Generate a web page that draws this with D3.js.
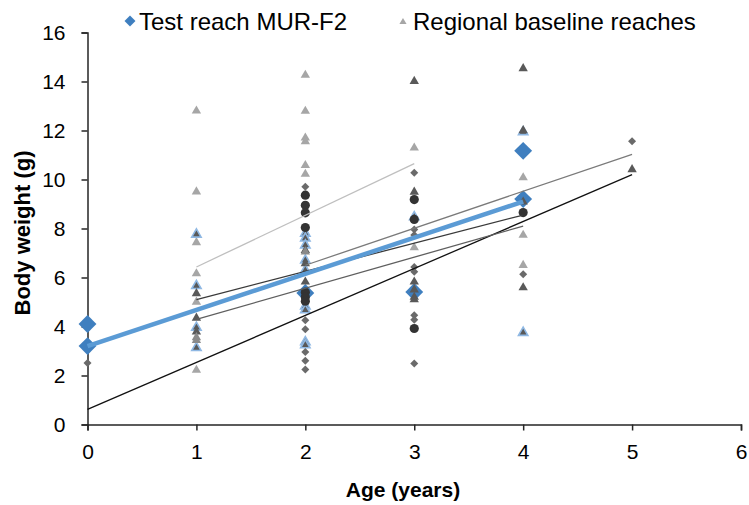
<!DOCTYPE html>
<html>
<head>
<meta charset="utf-8">
<script src="https://cdn.jsdelivr.net/npm/d3@7"></script>
<style>
  html, body { margin: 0; padding: 0; background: #fff; }
  svg { display: block; font-family: "Liberation Sans", Arial, sans-serif; }
</style>
</head>
<body>
<svg id="chart" width="749" height="505"></svg>
<script>
// Age (years) ticks and body weight (g) ticks
const xTicks = [0, 1, 2, 3, 4, 5, 6];
const yTicks = [0, 2, 4, 6, 8, 10, 12, 14, 16];

// Test reach MUR-F2
const testAge    = [0, 0, 2, 3, 4, 4];
const testWeight = [4.1, 3.2, 5.37, 5.41, 11.17, 9.2];
const testTrend  = { age: [0, 4], weight: [3.2, 9.1] };

// Regional baseline reaches, grouped by marker style
const lightTriAge    = [1, 1, 1, 1, 1, 1, 2, 2, 2, 2, 2, 2, 3, 3, 4, 4, 4];
const lightTriWeight = [12.8, 9.5, 7.43, 6.16, 5.0, 2.22, 14.26, 12.79, 11.7, 11.55, 10.58, 10.22, 11.29, 7.22, 10.08, 7.73, 6.5];

const outlinedTriAge    = [1, 1, 1, 1, 2, 2, 2, 2, 2, 2, 2, 2, 2, 3, 4, 4];
const outlinedTriWeight = [7.76, 5.66, 3.96, 3.13, 7.8, 7.6, 7.32, 6.7, 6.3, 4.83, 4.67, 3.37, 3.24, 8.47, 11.94, 3.75];

const darkTriAge    = [1, 1, 1, 2, 2, 2, 3, 3, 3, 3, 3, 3, 4, 4, 4, 4, 5];
const darkTriWeight = [5.35, 4.35, 3.78, 7.11, 6.57, 5.82, 14.01, 9.49, 5.82, 5.5, 5.2, 5.1, 14.53, 12.0, 9.09, 5.59, 10.41];

const midTriAge    = [1, 1, 2];
const midTriWeight = [3.55, 3.44, 7.05];

const diamondAge    = [0, 2, 2, 2, 2, 2, 2, 3, 3, 3, 3, 3, 3, 3, 3, 4, 5];
const diamondWeight = [2.51, 9.7, 4.26, 3.89, 2.96, 2.6, 2.24, 10.28, 7.96, 7.73, 6.43, 6.23, 4.46, 4.28, 2.49, 6.13, 11.56];

const circleAge    = [2, 2, 2, 2, 2, 2, 2, 3, 3, 3, 4];
const circleWeight = [9.36, 8.95, 8.64, 8.04, 5.4, 5.2, 5.03, 9.18, 8.37, 3.92, 8.65];

// Linear trends of the baseline reaches (fitted start and end points)
const trendAgeStart    = [1, 0, 1, 1, 2];
const trendAgeEnd      = [3, 5, 4, 4, 5];
const trendWeightStart = [6.43, 0.62, 5.1, 4.29, 6.5];
const trendWeightEnd   = [10.65, 10.2, 8.55, 8.1, 11.03];
const trendColors      = ["#bfbfbf", "#111111", "#3a3a3a", "#5f5f5f", "#7a7a7a"];

const legendLabels = ["Test reach MUR-F2", "Regional baseline reaches"];

const svg = d3.select("#chart");

const x = d3.scaleLinear().domain([0, 6]).range([87.5, 741]);
const y = d3.scaleLinear().domain([0, 16]).range([424.5, 32.5]);

// Axes
const yAxis = svg.append("g")
  .attr("transform", `translate(${x(0)},0)`)
  .call(d3.axisLeft(y).tickValues(yTicks).tickFormat(d3.format("d")).tickSize(6).tickPadding(16));
const xAxis = svg.append("g")
  .attr("transform", `translate(0,${y(0)})`)
  .call(d3.axisBottom(x).tickValues(xTicks).tickFormat(d3.format("d")).tickSize(6).tickPadding(14));

[xAxis, yAxis].forEach(g => {
  g.select(".domain").attr("stroke", "#262626").attr("stroke-width", 1.5);
  g.selectAll(".tick line").attr("stroke", "#262626").attr("stroke-width", 1.5);
  g.selectAll(".tick text")
    .attr("fill", "#000")
    .style("font-size", "21px")
    .style("font-family", "'Liberation Sans', Arial, sans-serif");
});

// Axis titles
svg.append("text")
  .attr("x", 403)
  .attr("y", 497)
  .attr("text-anchor", "middle")
  .style("font-size", "21px")
  .style("font-weight", "bold")
  .text("Age (years)");

svg.append("text")
  .attr("transform", "translate(30,233) rotate(-90)")
  .attr("text-anchor", "middle")
  .style("font-size", "22px")
  .style("font-weight", "bold")
  .text("Body weight (g)");

const sym = (type, size) => d3.symbol().type(type).size(size)();
const diamondPath = s => sym(d3.symbolSquare, s);

function drawPoints(ages, weights, path, fill, stroke, strokeWidth, rotate) {
  svg.append("g").selectAll("path")
    .data(ages.map((a, i) => [a, weights[i]]))
    .join("path")
    .attr("d", path)
    .attr("transform", d => `translate(${x(d[0])},${y(d[1])})${rotate ? " rotate(45)" : ""}`)
    .attr("fill", fill)
    .attr("stroke", stroke || "none")
    .attr("stroke-width", strokeWidth || 0);
}

// Test reach markers (drawn first, underneath)
drawPoints(testAge, testWeight, diamondPath(160), "#3f7fbf", null, 0, true);

// Baseline reach markers
drawPoints(lightTriAge, lightTriWeight, sym(d3.symbolTriangle, 38), "#a6a6a6");
drawPoints(outlinedTriAge, outlinedTriWeight, sym(d3.symbolTriangle, 38), "#595959", "#8fb8e3", 1.6);
drawPoints(darkTriAge, darkTriWeight, sym(d3.symbolTriangle, 38), "#595959");
drawPoints(midTriAge, midTriWeight, sym(d3.symbolTriangle, 38), "#8a8a8a");
drawPoints(diamondAge, diamondWeight, diamondPath(32), "#6a6a6a", null, 0, true);
drawPoints(circleAge, circleWeight, sym(d3.symbolCircle, 66), "#333333");

// Trend lines
const line = d3.line().x(d => x(d[0])).y(d => y(d[1]));
trendAgeStart.forEach((a0, i) => {
  svg.append("path")
    .attr("d", line([[a0, trendWeightStart[i]], [trendAgeEnd[i], trendWeightEnd[i]]]))
    .attr("fill", "none")
    .attr("stroke", trendColors[i])
    .attr("stroke-width", 1.3);
});
svg.append("path")
  .attr("d", line(testTrend.age.map((a, i) => [a, testTrend.weight[i]])))
  .attr("fill", "none")
  .attr("stroke", "#5b9bd5")
  .attr("stroke-width", 4.5);

// Legend
const legend = svg.append("g").attr("transform", "translate(0,21)");
legend.append("path")
  .attr("d", diamondPath(60))
  .attr("transform", "translate(130,0) rotate(45)")
  .attr("fill", "#3f7fbf");
legend.append("text")
  .attr("x", 139).attr("y", 8.5)
  .style("font-size", "24px")
  .text(legendLabels[0]);
legend.append("path")
  .attr("d", sym(d3.symbolTriangle, 22))
  .attr("transform", "translate(403,1)")
  .attr("fill", "#a6a6a6");
legend.append("text")
  .attr("x", 413).attr("y", 8.5)
  .style("font-size", "24px")
  .text(legendLabels[1]);
</script>
</body>
</html>
